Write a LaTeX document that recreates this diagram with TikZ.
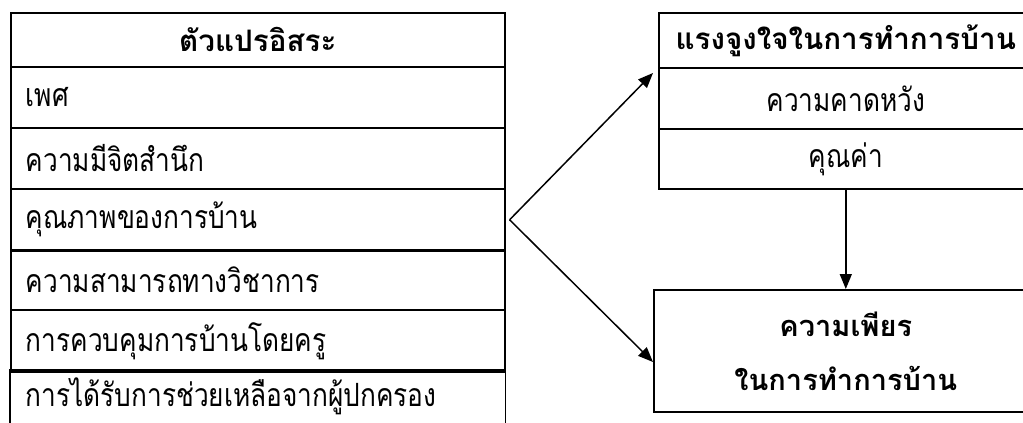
\documentclass[tikz,border=0pt]{standalone}
\usepackage{fontspec}
\setmainfont[Script=Thai]{Loma}
\newfontfamily\thnarrow[Script=Thai,FakeStretch=0.82]{Loma}
\usetikzlibrary{arrows.meta}
\begin{document}
\begin{tikzpicture}[x=1pt,y=-1pt,
  cell/.style={draw, line width=1.6pt, rectangle, anchor=north west, inner sep=0pt, font=\thnarrow\fontsize{32}{36}\selectfont},
  headfont/.style={font=\fontsize{29.6}{34}\selectfont\bfseries},
  leftrow/.style={cell, minimum width=494pt, text width=464pt, align=left},
  rightrow/.style={cell, minimum width=374pt, align=center},
  rule/.style={line width=1.6pt},
  conn/.style={line width=1.5pt, -{Triangle[length=15pt,width=12pt]}}
]
\useasboundingbox (0,0) rectangle (1023,423);
\clip (0,0) rectangle (1023,423);
\fill[white] (0,0) rectangle (1023,423);
% left table
\node[leftrow, minimum height=54pt, align=center, headfont] (lh) at (10,12) {ตัวแปรอิสระ};
\node[leftrow, minimum height=61pt] (l1) at (10,66) {เพศ};
\node[leftrow, minimum height=61pt] (l2) at (10,127) {ความมีจิตสำนึก};
\node[leftrow, minimum height=62pt] (l3) at (10,188) {คุณภาพของการบ้าน};
\node[leftrow, minimum height=60pt] (l4) at (10,249) {ความสามารถทางวิชาการ};
\node[leftrow, minimum height=62pt] (l5) at (10,309) {การควบคุมการบ้านโดยครู};
\node[leftrow, draw=none, minimum height=50pt] (l6) at (10,370) {การได้รับการช่วยเหลือจากผู้ปกครอง};
\draw[rule] ([yshift=-4pt]l6.south west) -- (l6.north west) -- (l6.north east) -- ([yshift=-4pt]l6.south east);
% right top box
\node[rightrow, minimum height=55pt, headfont] (mh) at (658,12) {แรงจูงใจในการทำการบ้าน};
\node[rightrow, minimum height=61pt] (m1) at (658,67) {ความคาดหวัง};
\node[rightrow, minimum height=60pt] (m2) at (658,128) {คุณค่า};
% right bottom box
\node[cell, minimum width=384pt, minimum height=122pt, align=center, font=\fontsize{29}{54}\selectfont\bfseries] (eff) at (653,289) {ความเพียร\\ในการทำการบ้าน};
% connectors
\coordinate (v) at ([xshift=4pt]l3.east);
\coordinate (ta) at ([xshift=-5pt,yshift=-6pt]m1.north west);
\coordinate (ba) at ([yshift=-73pt]eff.north west);
\draw[conn] (v) -- (ta);
\draw[conn] (v) -- (ba);
\draw[conn] (m2.south) -- (m2.south |- eff.north);
\end{tikzpicture}
\end{document}
